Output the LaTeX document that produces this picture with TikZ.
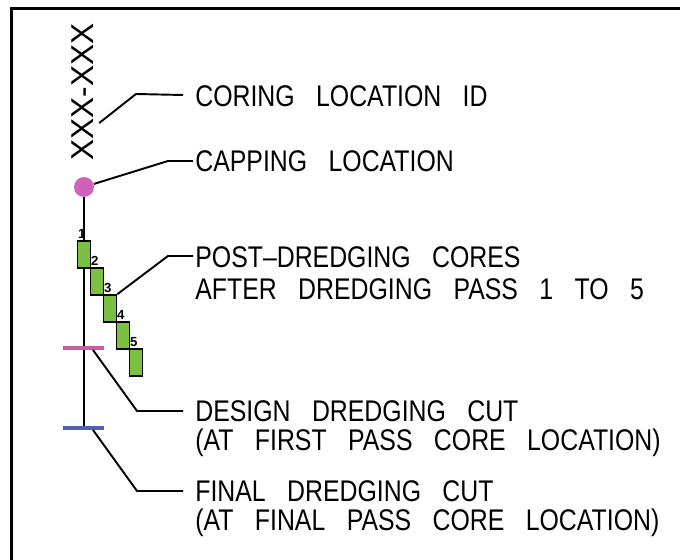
\documentclass[tikz,border=0pt]{standalone}
\usepackage{fontspec}
\setmainfont{Liberation Sans}[FakeStretch=0.832,WordSpace=3.1]
\newfontfamily\idfont{Liberation Sans}
\usepackage{tikz}
\usetikzlibrary{calc}
\definecolor{capmag}{RGB}{206,98,184}
\definecolor{cutmag}{RGB}{198,92,168}
\definecolor{cutblue}{RGB}{78,98,176}
\definecolor{coregreen}{RGB}{122,192,67}
\tikzset{
  lbl/.style={anchor=west,inner sep=0pt,font=\fontsize{17}{20}\selectfont},
  leader/.style={line width=1.1pt},
  core/.style={draw,line width=0.9pt,fill=coregreen,minimum width=0.26cm,minimum height=0.54cm,inner sep=0pt},
  num/.style={inner sep=0pt,font=\idfont\fontsize{7.5}{8}\selectfont\bfseries},
  cutline/.style={line width=1.8pt}
}

\begin{document}
\begin{tikzpicture}[x=0.02cm,y=-0.02cm]
  \useasboundingbox (0,0) rectangle (680,560);
  \draw[line width=1.7pt] (11.5,560) -- (11.5,8.5) -- (680,8.5);

  % symbols on the core axis
  \node[rotate=90,inner sep=0pt,font=\idfont\fontsize{18}{20}\selectfont] (xid) at (83,92) {XXX-XXX};
  \node[circle,fill=capmag,minimum size=0.4cm,inner sep=0pt] (cap) at (84,187) {};
  \coordinate (design) at (84,348);
  \coordinate (final) at (84,428);
  \draw[line width=0.9pt] (cap.south) -- (final);
  \foreach \i in {1,...,5} {
    \node[core] (c\i) at ({84+13*(\i-1)},{254.5+27*(\i-1)}) {};
    \node[num] at ($(c\i.north west)+(5,-6)$) {\i};
  }
  \draw[cutline,cutmag] ($(design)+(-21,0)$) -- ($(design)+(20,0)$);
  \draw[cutline,cutblue] ($(final)+(-21,0)$) -- ($(final)+(20,0)$);

  % labels
  \node[lbl] (lblid) at (195,96) {CORING LOCATION ID};
  \node[lbl] (lblcap) at (195,161) {CAPPING LOCATION};
  \node[lbl] (lblcore) at (195,257) {POST--DREDGING CORES};
  \node[lbl] (lblcore2) at (195,289) {AFTER DREDGING PASS 1 TO 5};
  \node[lbl] (lbldesign) at (195,411) {DESIGN DREDGING CUT};
  \node[lbl] (lbldesign2) at (195,443) {(AT FIRST PASS CORE LOCATION)};
  \node[lbl] (lblfinal) at (195,491) {FINAL DREDGING CUT};
  \node[lbl] (lblfinal2) at (195,523) {(AT FINAL PASS CORE LOCATION)};

  % leaders
  \coordinate (bid) at (136,94);
  \coordinate (bcap) at (168,161);
  \coordinate (bcore) at (168,256);
  \coordinate (bdesign) at (137,411);
  \coordinate (bfinal) at (137,491);
  \draw[leader] ($(xid.south)+(5,31)$) -- (bid) -- ($(lblid.west)+(-12,-1)$);
  \draw[leader] (cap) -- (bcap) -- ($(lblcap.west)+(-2,0)$);
  \draw[leader] (c3.north east) -- (bcore) -- ($(lblcore.west)+(-2,-1)$);
  \draw[leader] ($(design)+(9,2)$) -- (bdesign) -- ($(lbldesign.west)+(-12,0)$);
  \draw[leader] ($(final)+(9,2)$) -- (bfinal) -- ($(lblfinal.west)+(-12,0)$);
\end{tikzpicture}
\end{document}
